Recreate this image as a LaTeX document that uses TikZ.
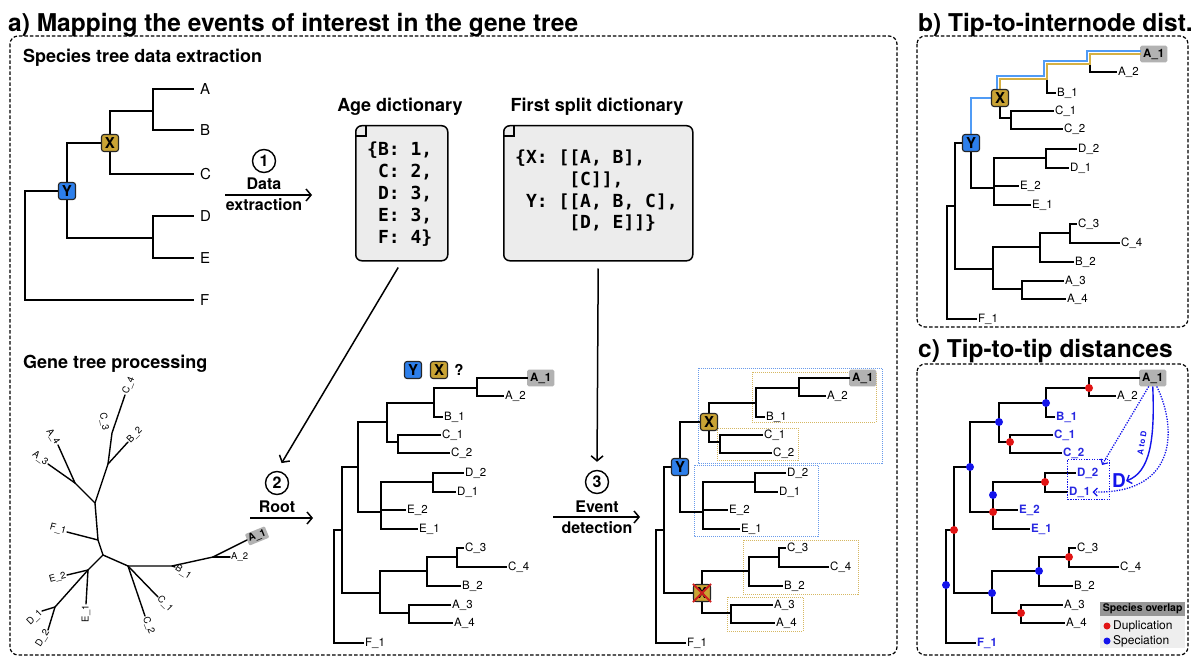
\documentclass[tikz,border=0pt]{standalone}
\usepackage{fontspec}
\setmainfont{TeX Gyre Heros}
\setmonofont{DejaVu Sans Mono}
\usetikzlibrary{arrows.meta}
\definecolor{gold}{RGB}{201,163,52}
\definecolor{yblue}{RGB}{45,127,235}
\definecolor{dictfill}{RGB}{236,236,236}
\definecolor{lblgray}{RGB}{178,178,178}
\definecolor{dotblue}{RGB}{105,155,235}
\definecolor{dotgold}{RGB}{214,184,98}
\definecolor{hlblue}{RGB}{80,155,245}
\definecolor{hlgold}{RGB}{214,176,66}
\definecolor{dupred}{RGB}{225,20,20}
\definecolor{spblue}{RGB}{20,20,235}
\definecolor{tipblue}{RGB}{40,40,225}
\definecolor{crossred}{RGB}{205,30,30}
\definecolor{leghead}{RGB}{150,150,150}
\definecolor{legbody}{RGB}{238,238,238}
\newcommand\myfs[1]{\fontsize{#1}{#1}\selectfont}
\tikzset{
  panel/.style={draw, line width=1.2pt, dash pattern=on 3.5pt off 2pt, rounded corners=8pt},
  ptitle/.style={anchor=base west, inner sep=0, font=\bfseries\myfs{24.5}},
  heading/.style={anchor=base west, inner sep=0, font=\bfseries\myfs{18}},
  br/.style={line width=1.6pt, line join=miter, line cap=rect},
  ubr/.style={line width=1.4pt, line cap=round},
  sleaf/.style={anchor=west, inner xsep=7pt, inner ysep=2pt, font=\myfs{15}},
  tip/.style={anchor=west, inner sep=2pt, font=\myfs{11.5}},
  tipN/.style={tip},
  tipS/.style={tip},
  tipA/.style={anchor=west, inner sep=3pt, fill=lblgray, rounded corners=1.5pt, font=\bfseries\myfs{11.5}},
  utip/.style={inner sep=1pt, font=\myfs{9.5}},
  xbox/.style={draw=black!85, line width=1.1pt, fill=gold, rounded corners=2.5pt, minimum width=17pt, minimum height=17pt, inner sep=0, font=\bfseries\myfs{15}},
  ybox/.style={xbox, fill=yblue},
  stepc/.style={circle, draw, line width=1.4pt, minimum size=23pt, inner sep=0, font=\bfseries\myfs{16}},
  steplbl/.style={inner sep=0, font=\bfseries\myfs{16}},
  arr/.style={line width=1.5pt, -{Straight Barb[length=5pt, width=12pt, line width=1.5pt]}},
  dict/.style={draw, line width=1.5pt, fill=dictfill, rounded corners=6pt, inner sep=0, anchor=north west},
  dtext/.style={anchor=base west, inner sep=0, font=\ttfamily\bfseries\myfs{18}},
  dotbox/.style={draw=#1, line width=1pt, dash pattern=on 1pt off 1pt},
  hl/.style={line width=2.2pt, line join=miter, line cap=rect},
}
\newcommand\gtree{%
  \coordinate (nA) at (477,388);
  \coordinate (nAB) at (434,403);
  \coordinate (nC) at (398,442);
  \coordinate (nX) at (387,422);
  \coordinate (nD) at (433,482);
  \coordinate (nDE) at (381,495);
  \coordinate (nE) at (381,512);
  \coordinate (nY) at (358,467);
  \coordinate (nC3) at (457,557);
  \coordinate (nCB) at (427,571);
  \coordinate (nAA) at (409,613);
  \coordinate (nL) at (380,593);
  \coordinate (nR) at (342,530);
  \coordinate (nRoot) at (334,585);
  \node[tipA] (A1) at (527,378) {A\_1};
  \node[tipN] (A2) at (503,396) {A\_2};
  \node[tipS] (B1) at (442,417) {B\_1};
  \node[tipS] (C1) at (440,435) {C\_1};
  \node[tipS] (C2) at (449,453) {C\_2};
  \node[tipS] (D2) at (463,473) {D\_2};
  \node[tipS] (D1) at (455,492) {D\_1};
  \node[tipS] (E2) at (405,510) {E\_2};
  \node[tipS] (E1) at (417,529) {E\_1};
  \node[tipN] (C3) at (463,548) {C\_3};
  \node[tipN] (C4) at (506,567) {C\_4};
  \node[tipN] (B2) at (460,586) {B\_2};
  \node[tipN] (A3) at (450,605) {A\_3};
  \node[tipN] (A4) at (452,623) {A\_4};
  \node[tipS] (F1) at (363,643) {F\_1};
  \draw[br] (A1.west) -| (477,396) -- (A2.west);
  \draw[br] (477,388) -| (434,417) -- (B1.west);
  \draw[br] (434,403) -| (387,442) -- (398,442);
  \draw[br] (C1.west) -| (398,453) -- (C2.west);
  \draw[br] (387,422) -| (358,512) -- (381,512);
  \draw[br] (D2.west) -| (433,492) -- (D1.west);
  \draw[br] (433,482) -| (381,529) -- (E1.west);
  \draw[br] (381,510) -- (E2.west);
  \draw[br] (358,467) -| (342,593) -- (380,593);
  \draw[br] (C3.west) -| (457,567) -- (C4.west);
  \draw[br] (457,557) -| (427,586) -- (B2.west);
  \draw[br] (427,571) -| (380,613) -- (409,613);
  \draw[br] (A3.west) -| (409,623) -- (A4.west);
  \draw[br] (342,530) -| (334,643) -- (F1.west);
}
\begin{document}
\begin{tikzpicture}[x=1pt, y=-1pt]
\useasboundingbox (0,0) rectangle (1191,658);
\fill[white] (0,0) rectangle (1191,658);

% ---------- panels ----------
\node[ptitle] (ta) at (8,31.5) {a) Mapping the events of interest in the gene tree};
\node[ptitle] (tb) at (918,31.5) {b) Tip-to-internode dist.};
\node[ptitle] (tc) at (918,357) {c) Tip-to-tip distances};
\draw[panel] (10,36) rectangle (897,655);
\draw[panel] (917,36) rectangle (1188,327);
\draw[panel] (917,364) rectangle (1188,655);

% ---------- species tree ----------
\node[heading] (hs) at (23,63) {Species tree data extraction};
\node[sleaf] (sA) at (193,89) {A};
\node[sleaf] (sB) at (193,130) {B};
\node[sleaf] (sC) at (193,174) {C};
\node[sleaf] (sD) at (193,216) {D};
\node[sleaf] (sE) at (193,258) {E};
\node[sleaf] (sF) at (193,300) {F};
\draw[br] (sA.west) -| (153,130) -- (sB.west);
\draw[br] (153,111) -| (110,174) -- (sC.west);
\draw[br] (110,143) -| (67,238) -- (153,238);
\draw[br] (sD.west) -| (153,258) -- (sE.west);
\draw[br] (67,191) -| (25,300) -- (sF.west);
\node[xbox] (sX) at (110,143) {X};
\node[ybox] (sY) at (67,191) {Y};

% ---------- step 1 ----------
\node[stepc] (s1) at (264,161) {1};
\node[steplbl] (s1a) at (264,184) {Data};
\node[steplbl] (s1b) at (264,205) {extraction};
\coordinate (a1s) at (225,195);
\coordinate (a1e) at (312,195);
\draw[arr] (a1s) -- (a1e);

% ---------- dictionaries ----------
\node[heading, anchor=base] (tage) at (400,112) {Age dictionary};
\node[heading, anchor=base] (tfs) at (597,112) {First split dictionary};
\node[dict, minimum width=92, minimum height=135] (agebox) at (355,125) {};
\node[dict, minimum width=189, minimum height=135] (fsbox) at (503,125) {};
\draw[line width=1.1pt] (355.7,136) -- (366,136) -- (366,125.7);
\draw[line width=1.1pt] (503.7,136) -- (514,136) -- (514,125.7);
\node[dtext] (ag1) at (367,155) {\{B: 1,};
\node[dtext] (ag2) at (367,177) {\phantom{\{}C: 2,};
\node[dtext] (ag3) at (367,199) {\phantom{\{}D: 3,};
\node[dtext] (ag4) at (367,221) {\phantom{\{}E: 3,};
\node[dtext] (ag5) at (367,243) {\phantom{\{}F: 4\}};
\node[dtext] (fs1) at (515,163) {\{X: [[A, B],};
\node[dtext] (fs2) at (515,185) {\phantom{\{X: [}[C]],};
\node[dtext] (fs3) at (515,207) {\phantom{\{}Y: [[A, B, C],};
\node[dtext] (fs4) at (515,228) {\phantom{\{X: [}[D, E]]\}};

% ---------- gene tree (unrooted) ----------
\node[heading] (hg) at (23,368) {Gene tree processing};
\coordinate (u0) at (103,555);
\coordinate (uC) at (128,566);
\coordinate (uB) at (172,566);
\coordinate (uA) at (213,557);
\coordinate (uF) at (98,540);
\coordinate (uU) at (95,503);
\coordinate (uAA) at (75,483);
\coordinate (uBC) at (108,464);
\coordinate (uCC) at (112,433);
\coordinate (uE) at (88,570);
\coordinate (uD) at (55,607);
\node[utip, anchor=west, rotate=22, fill=lblgray, font=\bfseries\myfs{10}, inner sep=1.5pt, rounded corners=1pt] (gA1) at (247,540) {A\_1};
\node[utip, anchor=west] (gA2) at (230,557) {A\_2};
\node[utip, anchor=west, rotate=-33] (gB1) at (175,567) {B\_1};
\node[utip, anchor=west, rotate=-45] (gC1) at (158,597) {C\_1};
\node[utip, anchor=west, rotate=-68] (gC2) at (145,616) {C\_2};
\node[utip, anchor=east, rotate=-15] (gF1) at (67,532) {F\_1};
\node[utip, anchor=east, rotate=-36] (gA3) at (48,464) {A\_3};
\node[utip, anchor=east, rotate=-58] (gA4) at (58,445) {A\_4};
\node[utip, anchor=west, rotate=45] (gB2) at (128,442) {B\_2};
\node[utip, anchor=west, rotate=68] (gC4) at (125,395) {C\_4};
\node[utip, rotate=-80] (gC3) at (104,422) {C\_3};
\node[utip, anchor=east, rotate=15] (gE2) at (67,575) {E\_2};
\node[utip, anchor=east, rotate=90] (gE1) at (86,604) {E\_1};
\node[utip, anchor=east, rotate=44] (gD1) at (42,611) {D\_1};
\node[utip, anchor=east, rotate=58] (gD2) at (48,630) {D\_2};
\draw[ubr] (u0) -- (uC) -- (uB) -- (uA) -- (gA1.west);
\draw[ubr] (uA) -- (gA2.west);
\draw[ubr] (uB) -- (gB1.west);
\draw[ubr] (uC) -- (gC1.west);
\draw[ubr] (uC) -- (gC2.west);
\draw[ubr] (u0) -- (uF) -- (uU) -- (uBC) -- (uCC) -- (gC4.west);
\draw[ubr] (uF) -- (gF1.east);
\draw[ubr] (uU) -- (uAA) -- (gA3.east);
\draw[ubr] (uAA) -- (gA4.east);
\draw[ubr] (uBC) -- (gB2.west);
\draw[ubr] (u0) -- (uE) -- (uD) -- (gD1.east);
\draw[ubr] (uD) -- (gD2.east);
\draw[ubr] (uE) -- (gE2.east);
\draw[ubr] (uE) -- (gE1.east);

% ---------- step 2 ----------
\node[stepc] (s2) at (277,483) {2};
\node[steplbl] (s2a) at (277,507) {Root};
\coordinate (a2s) at (250,518);
\coordinate (a2e) at (313,518);
\draw[arr] (a2s) -- (a2e);
\draw[arr, shorten <=7pt, shorten >=9pt] (agebox.south) -- (s2.north);

% ---------- rooted tree (middle) ----------
\begin{scope}[name prefix=m-]
  \gtree
\end{scope}
\node[ybox] (mY) at (413,370) {Y};
\node[xbox] (mX) at (439,370) {X};
\node[inner sep=0, font=\bfseries\myfs{15}] (mq) at (459,370) {?};

% ---------- step 3 ----------
\node[stepc] (s3) at (597,482) {3};
\node[steplbl] (s3a) at (597,507) {Event};
\node[steplbl] (s3b) at (597,528) {detection};
\coordinate (a3s) at (553,517);
\coordinate (a3e) at (640,517);
\draw[arr] (a3s) -- (a3e);
\draw[arr, shorten <=7pt, shorten >=8pt] (fsbox.south) -- (s3.north);

% ---------- rooted tree (right, with events) ----------
\draw[dotbox=dotblue] (698,368) rectangle (882,463);
\draw[dotbox=dotgold] (752,372) rectangle (876,422);
\draw[dotbox=dotgold] (717,428) rectangle (798,460);
\draw[dotbox=dotblue] (694,465) rectangle (818,536);
\draw[dotbox=dotgold] (743,540) rectangle (858,594);
\draw[dotbox=dotgold] (727,597) rectangle (803,631);
\begin{scope}[shift={(322,0)}, name prefix=r-]
  \gtree
\end{scope}
\node[xbox] (rX) at (r-nX) {X};
\node[ybox] (rY) at (r-nY) {Y};
\node[xbox] (rXl) at (r-nL) {X};
\draw[crossred, line width=1.8pt] (rXl.north west) -- (rXl.south east) (rXl.north east) -- (rXl.south west);

% ---------- panel b ----------
\begin{scope}[shift={(613,-324)}, name prefix=b-]
  \gtree
\end{scope}
\draw[hl, hlgold] (b-nX) -- (1000,79) -- (1047,79) -- (1047,64) -- (1090,64) -- (1090,54) -- (b-A1.west);
\draw[hl, hlblue] (b-nY) -- (971,98) -- (997,98) -- (997,76) -- (1044,76) -- (1044,61) -- (1087,61) -- (1087,51) -- ([yshift=3pt]b-A1.west);
\node[xbox] (bX) at (b-nX) {X};
\node[ybox] (bY) at (b-nY) {Y};

% ---------- panel c ----------
\begin{scope}[shift={(612,0)}, name prefix=c-, tipS/.style={tip, text=tipblue, font=\bfseries\myfs{11.5}}]
  \gtree
\end{scope}
\foreach \n in {nA,nC,nD,nE,nR,nC3,nAA} \fill[dupred] (c-\n) circle (4pt);
\foreach \n in {nAB,nX,nY,nDE,nRoot,nL,nCB} \fill[spblue] (c-\n) circle (4pt);
\node[draw=spblue, line width=1.3pt, dash pattern=on 1.3pt off 1.3pt, minimum width=42, minimum height=40, anchor=north west, inner sep=0] (dbox) at (1067,459) {};
\node[text=spblue, font=\bfseries\myfs{19}, inner sep=0] (dlab) at (1119,481) {D};
\draw[spblue, line width=1.4pt, -{Straight Barb[length=4pt, width=9pt, line width=1.4pt]}] (c-A1.south) .. controls (1155,440) and (1150,472) .. (dlab.east);
\node[text=spblue, font=\bfseries\myfs{8}, rotate=80, inner sep=0] (atod) at (1142,443) {A to D};
\draw[spblue, line width=1.3pt, dash pattern=on 1.3pt off 1.3pt, -{Straight Barb[length=4pt, width=8pt, line width=1.2pt]}] ([xshift=-4pt]c-A1.south) -- (1102,465);
\draw[spblue, line width=1.3pt, dash pattern=on 1.3pt off 1.3pt, -{Straight Barb[length=4pt, width=8pt, line width=1.2pt]}] ([xshift=4pt]c-A1.south) .. controls (1176,425) and (1180,494) .. (c-D1.east);
\node[fill=leghead, minimum width=85, minimum height=14, anchor=north west, inner sep=0, font=\bfseries\myfs{10.5}] (leghd) at (1100,602) {Species overlap};
\node[fill=legbody, minimum width=85, minimum height=32, anchor=north west, inner sep=0] (legbd) at (1100,616) {};
\fill[dupred] (1107,626) circle (3.5pt);
\fill[spblue] (1107,641) circle (3.5pt);
\node[anchor=west, inner sep=0, font=\myfs{12}] (legdup) at (1113,626) {Duplication};
\node[anchor=west, inner sep=0, font=\myfs{12}] (legspc) at (1113,641) {Speciation};
\end{tikzpicture}
\end{document}
